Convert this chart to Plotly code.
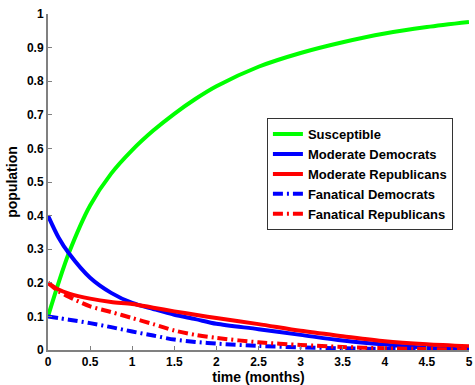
import plotly.graph_objects as go

# time samples (months)
t = [0, 0.125, 0.25, 0.5, 0.75, 1, 1.25, 1.5, 1.75, 2, 2.5, 3, 3.5, 4, 4.5, 5]

susceptible = [0.10, 0.20, 0.29, 0.43, 0.525, 0.595, 0.653, 0.703, 0.747, 0.785,
               0.843, 0.884, 0.916, 0.942, 0.961, 0.976]
moderate_dem = [0.40, 0.335, 0.287, 0.215, 0.17, 0.140, 0.122, 0.105, 0.092, 0.078,
                0.062, 0.045, 0.028, 0.016, 0.007, 0.002]
moderate_rep = [0.20, 0.18, 0.168, 0.153, 0.143, 0.137, 0.126, 0.115, 0.105, 0.095,
                0.077, 0.057, 0.041, 0.026, 0.017, 0.011]
fanatic_dem = [0.10, 0.095, 0.09, 0.08, 0.068, 0.055, 0.043, 0.031, 0.024, 0.019,
               0.012, 0.008, 0.005, 0.003, 0.002, 0.001]
fanatic_rep = [0.20, 0.175, 0.158, 0.13, 0.113, 0.095, 0.077, 0.058, 0.045, 0.036,
               0.023, 0.015, 0.009, 0.005, 0.003, 0.001]

x_ticks = [0, 0.5, 1, 1.5, 2, 2.5, 3, 3.5, 4, 4.5, 5]
y_ticks = [0, 0.1, 0.2, 0.3, 0.4, 0.5, 0.6, 0.7, 0.8, 0.9, 1]

DASHDOT = "10px,4px,2px,4px"

series = [
    ("Susceptible", susceptible, "#00ff00", "solid"),
    ("Moderate Democrats", moderate_dem, "#0000ff", "solid"),
    ("Moderate Republicans", moderate_rep, "#ff0000", "solid"),
    ("Fanatical Democrats", fanatic_dem, "#0000ff", DASHDOT),
    ("Fanatical Republicans", fanatic_rep, "#ff0000", DASHDOT),
]

fig = go.Figure()
for name, ys, color, dash in series:
    fig.add_trace(go.Scatter(
        x=t, y=ys, name=name, mode="lines",
        line=dict(color=color, width=4, dash=dash, shape="spline", smoothing=0.8),
    ))

axis_common = dict(
    showline=True, linecolor="#808080", linewidth=2,
    ticks="inside", ticklen=4, tickcolor="#808080", tickwidth=1,
    showgrid=False, zeroline=False, mirror=False,
    tickfont=dict(size=12, color="black", weight="bold"),
    ticklabeloverflow="allow",
)

fig.update_layout(
    width=475, height=385,
    margin=dict(l=48, r=2, t=14, b=35),
    paper_bgcolor="white", plot_bgcolor="white",
    font=dict(family="Liberation Sans, Arial, sans-serif", size=12, color="black", weight="bold"),
    xaxis=dict(range=[0, 5], tickvals=x_ticks,
               title=dict(text="time (months)", standoff=4), **axis_common),
    yaxis=dict(range=[0, 1], tickvals=y_ticks,
               title=dict(text="population", standoff=6), **axis_common),
    legend=dict(
        x=0.52, y=0.69, xanchor="left", yanchor="top",
        bordercolor="#333333", borderwidth=1, bgcolor="white",
        font=dict(size=13, weight="bold"),
        tracegroupgap=0,
    ),
    showlegend=True,
)

fig.write_html("out.html")
